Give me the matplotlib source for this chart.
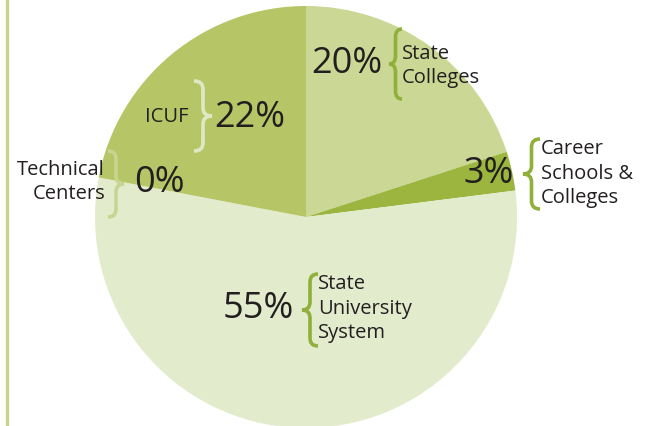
import matplotlib.pyplot as plt
from matplotlib.path import Path
from matplotlib.patches import PathPatch

# slices, clockwise from 12 o'clock
sectors = ['State Colleges', 'Career Schools & Colleges', 'State University System',
           'Technical Centers', 'ICUF']
shares = [20, 3, 55, 0, 22]
colors = ['#cbd895', '#9cb53e', '#e3ebcd', '#c8d592', '#b6c666']

W, H = 645, 427
BRACE_DARK = '#8fb03a'
TXT = '#231f20'


def brace(ax, x_tip, x_end, top, bot, color, lw=2.6):
  # curly brace drawn in pixel coords (y down); tip at x_tip, ends at x_end
  xs = (x_tip + x_end) / 2.0
  mid = (top + bot) / 2.0
  r = min(8, (bot - top) / 6.0)
  verts = [(x_end, top), (xs, top), (xs, top + r),
           (xs, mid - r), (xs, mid), (x_tip, mid),
           (xs, mid), (xs, mid + r),
           (xs, bot - r), (xs, bot), (x_end, bot)]
  codes = [Path.MOVETO, Path.CURVE3, Path.CURVE3,
           Path.LINETO, Path.CURVE3, Path.CURVE3,
           Path.CURVE3, Path.CURVE3,
           Path.LINETO, Path.CURVE3, Path.CURVE3]
  ax.add_patch(PathPatch(Path(verts, codes), fill=False, edgecolor=color,
                         lw=lw, capstyle='butt'))


def main():
  plt.rcParams['font.family'] = ['Open Sans', 'DejaVu Sans']
  fig = plt.figure(figsize=(W / 100, H / 100), dpi=100)
  ax = fig.add_axes([0, 0, 1, 1])

  # y axis is flipped, so counterclock here runs clockwise on screen
  ax.pie(shares, colors=colors, startangle=-90, counterclock=True,
         center=(306, 218), radius=211, wedgeprops=dict(linewidth=0))
  ax.set_xlim(0, W)
  ax.set_ylim(H, 0)
  ax.set_aspect('equal')
  ax.axis('off')

  ax.plot([7, 7], [0, H], color='#c6d48e', lw=2.4, solid_capstyle='butt')

  pct = dict(fontsize=26, color=TXT, va='center')
  lab = dict(fontsize=14.5, color=TXT, va='center', linespacing=1.3)

  # State Colleges
  ax.text(311, 64, '%d%%' % shares[0], ha='left', **pct)
  brace(ax, 389, 402, 30, 100, BRACE_DARK)
  ax.text(402, 66, 'State\nColleges', ha='left', **lab)

  # Career
  ax.text(463, 174, '%d%%' % shares[1], ha='left', **pct)
  brace(ax, 523, 540, 140, 210, BRACE_DARK)
  ax.text(541, 174, 'Career\nSchools &\nColleges', ha='left', **lab)

  # SUS
  ax.text(223, 309, '%d%%' % shares[2], ha='left', **pct)
  brace(ax, 302, 318, 275, 347, BRACE_DARK)
  ax.text(318, 309, 'State\nUniversity\nSystem', ha='left', **lab)

  # ICUF
  ax.text(189, 117, 'ICUF', ha='right', **lab)
  brace(ax, 212, 194, 82, 152, '#dfe8c4')
  ax.text(214, 118, '%d%%' % shares[4], ha='left', **pct)

  # Technical Centers
  ax.text(105, 182, 'Technical\nCenters', ha='right', **lab)
  brace(ax, 124, 108, 152, 218, '#c8d592')
  ax.text(134, 183, '%d%%' % shares[3], ha='left', **pct)

  fig.savefig('out.png', dpi=100)


if __name__ == '__main__':
  main()
